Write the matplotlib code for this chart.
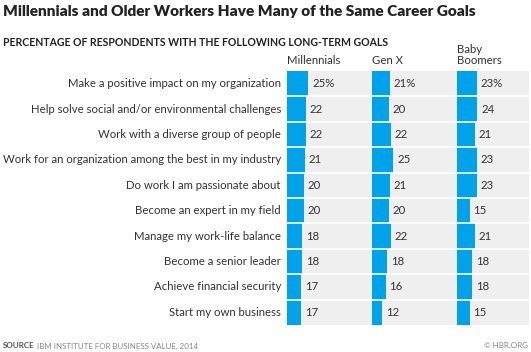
import matplotlib.pyplot as plt

goals = [
    "Make a positive impact on my organization",
    "Help solve social and/or environmental challenges",
    "Work with a diverse group of people",
    "Work for an organization among the best in my industry",
    "Do work I am passionate about",
    "Become an expert in my field",
    "Manage my work-life balance",
    "Become a senior leader",
    "Achieve financial security",
    "Start my own business",
]
groups = ["Millennials", "Gen X", "Baby\nBoomers"]
millennials = [25, 22, 22, 21, 20, 20, 18, 18, 17, 17]
gen_x = [21, 20, 22, 25, 21, 20, 22, 18, 16, 12]
boomers = [23, 24, 21, 23, 23, 15, 21, 18, 18, 15]

W, H = 531, 352
BLUE = "#00a2ea"
TXT = "#333333"
FONT = "Lato"

fig = plt.figure(figsize=(W / 100, H / 100), dpi=100)

# axes in pixel coords: x 287..529, y 71..325
x0, x1, y0, y1 = 287, 529, 71, 325
ax = fig.add_axes([x0 / W, 1 - y1 / H, (x1 - x0) / W, (y1 - y0) / H])
ax.set_facecolor("#efefef")
px_per_unit = 0.85
ax.set_xlim(0, (x1 - x0) / px_per_unit)
ax.set_ylim(len(goals), 0)
for s in ax.spines.values():
    s.set_visible(False)
ax.set_xticks([])
ax.set_yticks([])

offset = 100
rows = range(len(goals))
for gi, vals in enumerate([millennials, gen_x, boomers]):
    left = gi * offset
    ax.barh([r + 0.5 for r in rows], vals, left=left, height=1.0, color=BLUE, linewidth=0)
    for r, v in zip(rows, vals):
        lab = f"{v}%" if r == 0 else str(v)
        ax.text(left + v + 4.5, r + 0.5, lab, va="center", ha="left",
                fontsize=8.2, color=TXT, family=FONT)
    ax.text(left, -0.2, groups[gi], va="bottom", ha="left", fontsize=8.2,
            color=TXT, family=FONT, linespacing=0.95)

for r in range(1, len(goals)):
    ax.axhline(r, color="white", lw=1.2)

for r, g in enumerate(goals):
    ax.text(-6 / px_per_unit, r + 0.5, g, va="center", ha="right",
            fontsize=8.2, color=TXT, family=FONT)

fig.text(3 / W, 1 - 12 / H, "Millennials and Older Workers Have Many of the Same Career Goals",
         fontsize=11.05, weight="heavy", color="#222222", va="center", ha="left", family=FONT)
fig.text(3 / W, 1 - 42 / H, "PERCENTAGE OF RESPONDENTS WITH THE FOLLOWING LONG-TERM GOALS",
         fontsize=7.6, weight="bold", color="#222222", va="center", ha="left", family=FONT)

fig.text(3 / W, 1 - 346 / H, "SOURCE", fontsize=5.8, weight="bold", color="#555555",
         va="center", ha="left", family=FONT)
fig.text(37 / W, 1 - 346 / H, "IBM INSTITUTE FOR BUSINESS VALUE, 2014", fontsize=5.7,
         color="#888888", va="center", ha="left", family=FONT)
fig.text(528 / W, 1 - 346 / H, "© HBR.ORG", fontsize=5.8, color="#888888",
         va="center", ha="right", family=FONT)

fig.savefig("out.png", dpi=100, facecolor="white")
